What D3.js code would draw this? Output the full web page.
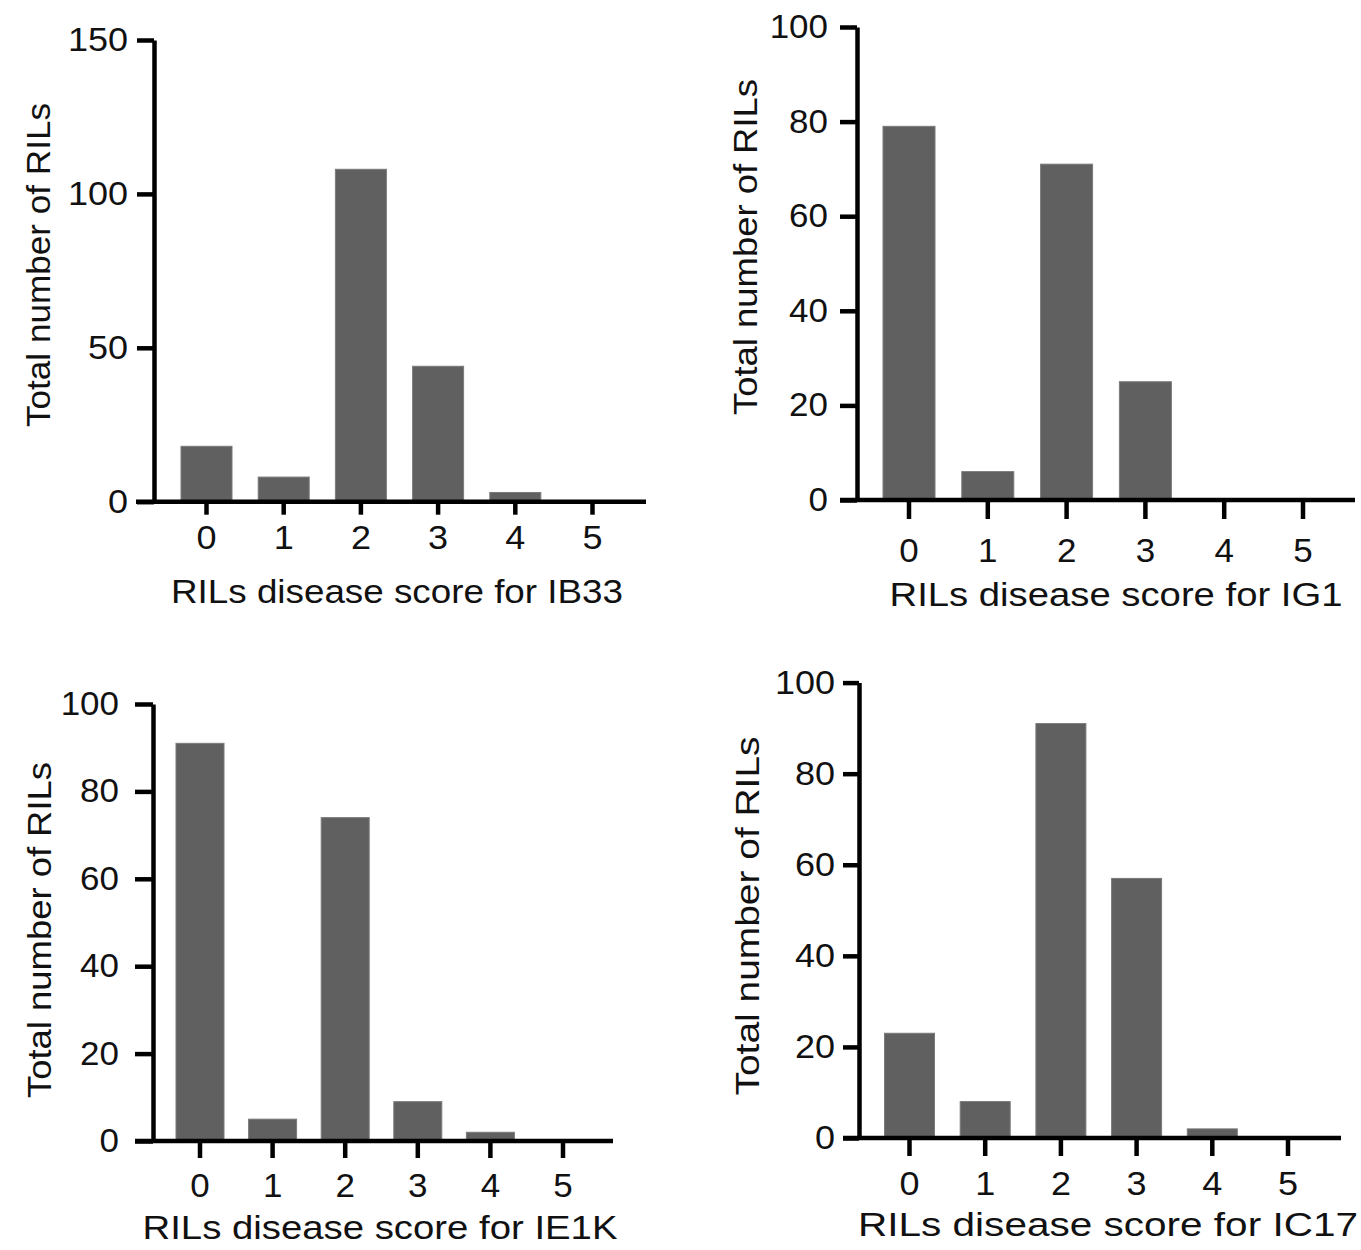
<!DOCTYPE html>
<html>
<head>
<meta charset="utf-8">
<script src="https://cdn.jsdelivr.net/npm/d3@7"></script>
<style>
  body { margin: 0; background: #fff; }
  svg text { font-family: "Liberation Sans", Arial, Helvetica, sans-serif; fill: #111; }
</style>
</head>
<body>
<div id="chart"></div>
<script>
// score categories shared by all four panels
var scores = ["0", "1", "2", "3", "4", "5"];

// number of RILs per disease score, one array per isolate
var countsIB33 = [18, 8, 108, 44, 3, 0];
var countsIG1 = [79, 6, 71, 25, 0, 0];
var countsIE1K = [91, 5, 74, 9, 2, 0];
var countsIC17 = [23, 8, 91, 57, 2, 0];

// y tick values
var ticksIB33 = [0, 50, 100, 150];
var ticks100 = [0, 20, 40, 60, 80, 100];

var yTitle = "Total number of RILs";
var xTitles = [
    "RILs disease score for IB33",
    "RILs disease score for IG1",
    "RILs disease score for IE1K",
    "RILs disease score for IC17"
];

var panels = [
    { counts: countsIB33, ticks: ticksIB33, xTitle: xTitles[0] },
    { counts: countsIG1, ticks: ticks100, xTitle: xTitles[1] },
    { counts: countsIE1K, ticks: ticks100, xTitle: xTitles[2] },
    { counts: countsIC17, ticks: ticks100, xTitle: xTitles[3] }
];

// pixel layout of each panel (the figure is a collage, panels differ slightly)
var layouts = [
    { ax: 154, y0: 501.7, y1: 40, xl: 136, xr: 646, c0: 206.5, step: 77.2, bw: 51, xTick: 13, yTick: 17, yPad: 9, xLabY: 35, fs: 34,
      yt: { x: 50, y: 265, len: 324 }, xt: { x: 397, y: 603, len: 452 } },
    { ax: 857, y0: 500, y1: 27, xl: 840, xr: 1355, c0: 909, step: 78.8, bw: 52, xTick: 19, yTick: 17, yPad: 12, xLabY: 50, fs: 33,
      yt: { x: 757, y: 247, len: 336 }, xt: { x: 1116, y: 606, len: 453 } },
    { ax: 153, y0: 1141, y1: 704, xl: 135, xr: 613, c0: 200, step: 72.6, bw: 48, xTick: 17, yTick: 18, yPad: 16, xLabY: 44, fs: 33,
      yt: { x: 51, y: 930, len: 336 }, xt: { x: 380, y: 1239, len: 475 } },
    { ax: 859, y0: 1138, y1: 682.6, xl: 843, xr: 1341, c0: 909.5, step: 75.7, bw: 50, xTick: 18, yTick: 16, yPad: 8, xLabY: 45, fs: 34,
      yt: { x: 759, y: 916, len: 359 }, xt: { x: 1108, y: 1236, len: 500 } }
];

var barColor = "#606060",
    axisWidth = 4.5,
    stretch = 1.06;

var svg = d3.select("#chart").append("svg")
    .attr("width", 1361)
    .attr("height", 1250);

function widen(sel, factor) {
    sel.each(function () {
        var w = this.getComputedTextLength();
        d3.select(this)
            .attr("textLength", w * factor)
            .attr("lengthAdjust", "spacingAndGlyphs");
    });
}

panels.forEach(function (p, i) {
    var L = layouts[i],
        g = svg.append("g"),
        yMax = p.ticks[p.ticks.length - 1];

    var x = d3.scaleBand()
        .domain(scores)
        .range([L.c0 - L.step / 2, L.c0 + L.step * (scores.length - 0.5)])
        .paddingInner(1 - L.bw / L.step)
        .paddingOuter((1 - L.bw / L.step) / 2);

    var y = d3.scaleLinear()
        .domain([0, yMax])
        .range([L.y0, L.y1]);

    // bars
    g.selectAll("rect.bar")
        .data(p.counts)
        .enter()
        .append("rect")
        .attr("class", "bar")
        .attr("x", function (d, j) { return x(scores[j]); })
        .attr("width", x.bandwidth())
        .attr("y", function (d) { return y(d); })
        .attr("height", function (d) { return L.y0 - y(d); })
        .attr("fill", barColor)
        .attr("stroke", "#7a7a7a")
        .attr("stroke-width", 1);

    // y axis
    var yAxis = g.append("g")
        .attr("transform", "translate(" + L.ax + ",0)")
        .call(d3.axisLeft(y).tickValues(p.ticks).tickSize(L.yTick).tickSizeOuter(0).tickPadding(L.yPad));
    yAxis.select(".domain").attr("stroke", "#000").attr("stroke-width", axisWidth);
    yAxis.selectAll(".tick line").attr("stroke", "#000").attr("stroke-width", axisWidth);
    yAxis.selectAll(".tick text")
        .attr("font-size", L.fs)
        .attr("fill", "#111")
        .call(widen, stretch);
    yAxis.attr("font-family", null);

    // x axis
    var xAxis = g.append("g")
        .attr("transform", "translate(0," + L.y0 + ")")
        .call(d3.axisBottom(x).tickSize(L.xTick).tickSizeOuter(0));
    xAxis.select(".domain").remove();
    xAxis.selectAll(".tick line").attr("stroke", "#000").attr("stroke-width", axisWidth);
    xAxis.selectAll(".tick text")
        .attr("y", L.xLabY)
        .attr("dy", "0.36em")
        .attr("font-size", L.fs)
        .attr("fill", "#111")
        .call(widen, stretch);
    xAxis.attr("font-family", null);
    xAxis.append("line")
        .attr("x1", L.xl)
        .attr("x2", L.xr)
        .attr("y1", 0)
        .attr("y2", 0)
        .attr("stroke", "#000")
        .attr("stroke-width", axisWidth);

    // axis titles
    g.append("text")
        .attr("transform", "translate(" + L.yt.x + "," + L.yt.y + ") rotate(-90)")
        .attr("text-anchor", "middle")
        .attr("font-size", L.fs)
        .attr("textLength", L.yt.len)
        .attr("lengthAdjust", "spacingAndGlyphs")
        .text(yTitle);

    g.append("text")
        .attr("x", L.xt.x)
        .attr("y", L.xt.y)
        .attr("text-anchor", "middle")
        .attr("font-size", L.fs)
        .attr("textLength", L.xt.len)
        .attr("lengthAdjust", "spacingAndGlyphs")
        .text(p.xTitle);
});
</script>
</body>
</html>
